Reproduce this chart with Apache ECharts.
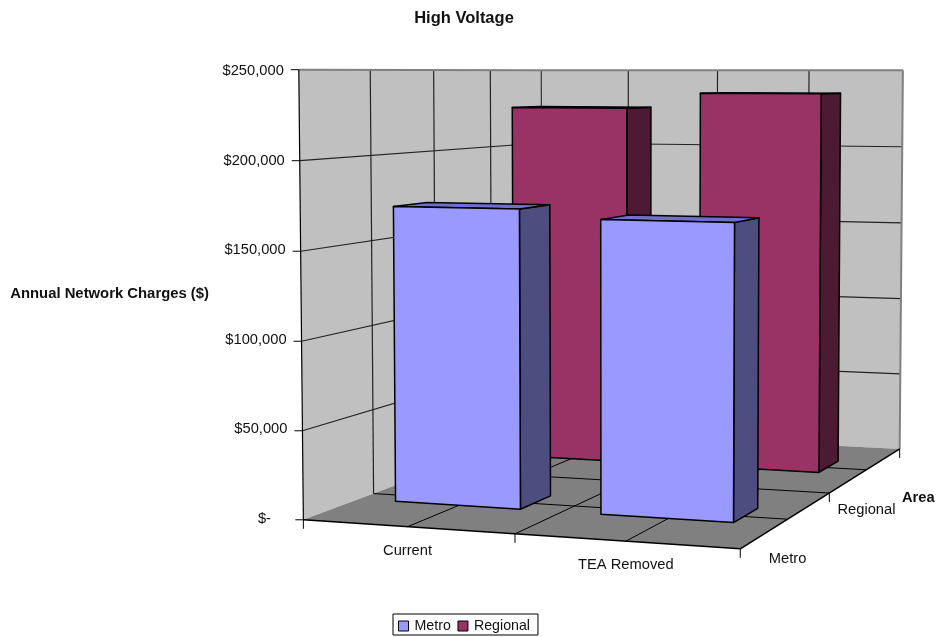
<!DOCTYPE html>
<html>
<head>
<meta charset="utf-8">
<style>html,body{margin:0;padding:0;background:#fff}#chart{width:936px;height:637px}</style>
<script src="https://cdn.jsdelivr.net/npm/echarts@6/dist/echarts.min.js"></script>
</head>
<body>
<div id="chart"></div>
<script>
// Annual network charges by scenario and area
const categories = ['Current', 'TEA Removed'];
const areas = ['Metro', 'Regional'];
const metroValues = [171500, 166500];
const regionalValues = [226000, 235500];
const valueTicks = [0, 50000, 100000, 150000, 200000, 250000];
const tickLabels = ['$-', '$50,000', '$100,000', '$150,000', '$200,000', '$250,000'];

const FONT = '"Liberation Sans", Arial, sans-serif';
const TEXT_SIZE = 14.7;
const VALUE_MAX = 250000;
const PLOT = { left: 303, top: 70, width: 437, height: 448 };
// Footprint of each bar inside its category/area cell
const BAR_ACROSS = [0.185, 0.8];
const BAR_DEPTH = [0.39, 0.65];

// Corners of the chart box on screen: [across, depth, height] -> [x, y]
const boxCorners = [
  [[0, 0, 0], [303.5, 518]], [[2, 0, 0], [740, 550]],
  [[2, 2, 0], [900, 448]], [[0, 2, 0], [542, 432]],
  [[0, 0, 1], [298, 70]], [[2, 0, 1], [743, 70]],
  [[2, 2, 1], [902, 70]], [[0, 2, 1], [542, 70]]
];

// Least-squares fit of the perspective camera through the box corners
function fitCamera(pairs) {
  const n = 11;
  const A = Array.from({ length: n }, () => new Array(n + 1).fill(0));
  const addRow = (row, rhs) => {
    for (let i = 0; i < n; i++) {
      for (let j = 0; j < n; j++) A[i][j] += row[i] * row[j];
      A[i][n] += row[i] * rhs;
    }
  };
  pairs.forEach(([[u, v, w], [x, y]]) => {
    addRow([u, v, w, 1, 0, 0, 0, 0, -x * u, -x * v, -x * w], x);
    addRow([0, 0, 0, 0, u, v, w, 1, -y * u, -y * v, -y * w], y);
  });
  for (let c = 0; c < n; c++) {
    let p = c;
    for (let r = c + 1; r < n; r++) if (Math.abs(A[r][c]) > Math.abs(A[p][c])) p = r;
    [A[c], A[p]] = [A[p], A[c]];
    for (let r = 0; r < n; r++) {
      if (r === c) continue;
      const f = A[r][c] / A[c][c];
      for (let k = c; k <= n; k++) A[r][k] -= f * A[c][k];
    }
  }
  return A.map((row, i) => row[n] / row[i]);
}
const cam = fitCamera(boxCorners);
function project(u, v, w) {
  const d = cam[8] * u + cam[9] * v + cam[10] * w + 1;
  return [
    (cam[0] * u + cam[1] * v + cam[2] * w + cam[3]) / d,
    (cam[4] * u + cam[5] * v + cam[6] * w + cam[7]) / d
  ];
}

function poly(points, fill, stroke, lineWidth) {
  return {
    type: 'polygon',
    shape: { points },
    style: { fill: fill || 'none', stroke: stroke || 'none', lineWidth: lineWidth || 0, lineJoin: 'round' }
  };
}
function seg(a, b, stroke, lineWidth) {
  return {
    type: 'line',
    shape: { x1: a[0], y1: a[1], x2: b[0], y2: b[1] },
    style: { stroke, lineWidth }
  };
}
function label(text, x, y) {
  return {
    type: 'text',
    style: { text, x, y, font: TEXT_SIZE + 'px ' + FONT, fill: '#111', align: 'center', verticalAlign: 'middle' }
  };
}

// Height fraction of a value, read back from the value axis
function heightOf(api, value) {
  const y = api.coord([0, value])[1];
  return (PLOT.top + PLOT.height - y) / PLOT.height;
}

// Walls, floor, gridlines, ticks and the two base axes' labels
function renderFrame(params, api) {
  const kids = [];
  const WALL = '#C0C0C0', FLOOR = '#808080', EDGE = '#808080';
  kids.push(poly([project(0, 0, 0), project(0, 2, 0), project(0, 2, 1), project(0, 0, 1)], WALL));
  kids.push(poly([project(0, 2, 0), project(2, 2, 0), project(2, 2, 1), project(0, 2, 1)], WALL));
  kids.push(poly([project(0, 0, 0), project(2, 0, 0), project(2, 2, 0), project(0, 2, 0)], FLOOR));
  const GRID = '#222';
  valueTicks.slice(1, -1).forEach((t) => {
    const w = heightOf(api, t);
    kids.push(seg(project(0, 0, w), project(0, 2, w), GRID, 1.2));
    kids.push(seg(project(0, 2, w), project(2, 2, w), GRID, 1.2));
  });
  [0.5, 1, 1.5].forEach((s) => {
    kids.push(seg(project(0, s, 0), project(0, s, 1), GRID, 1.2));
    kids.push(seg(project(s, 2, 0), project(s, 2, 1), GRID, 1.2));
    kids.push(seg(project(s, 0, 0), project(s, 2, 0), '#000', 1));
    kids.push(seg(project(0, s, 0), project(2, s, 0), '#000', 1));
  });
  kids.push(seg(project(0, 2, 0), project(0, 2, 1), '#333', 1.2));
  kids.push(seg(project(0, 2, 1), project(2, 2, 1), EDGE, 2));
  kids.push(seg(project(0, 0, 1), project(0, 2, 1), EDGE, 2));
  kids.push(seg(project(2, 2, 0), project(2, 2, 1), EDGE, 2));
  kids.push(seg(project(0, 0, 0), project(0, 0, 1), '#000', 1.2));
  kids.push(seg(project(0, 0, 0), project(2, 0, 0), '#000', 1.5));
  kids.push(seg(project(2, 0, 0), project(2, 2, 0), '#000', 1.5));
  // Value axis ticks
  valueTicks.forEach((t) => {
    const p = project(0, 0, heightOf(api, t));
    kids.push(seg([p[0] - 8, p[1]], p, '#000', 1));
  });
  // Base ticks
  [0, 1, 2].forEach((s) => {
    const a = project(s, 0, 0);
    kids.push(seg(a, [a[0], a[1] + 9], '#000', 1));
    if (s > 0) {
      const b = project(2, s, 0);
      kids.push(seg(b, [b[0], b[1] + 9], '#000', 1));
    }
  });
  categories.forEach((name, i) => {
    const p = project(i + 0.5, 0, 0);
    kids.push(label(name, p[0], p[1] + 24));
  });
  areas.forEach((name, i) => {
    const p = project(2, i + 0.5, 0);
    kids.push(label(name, p[0], p[1] + 40));
  });
  return { type: 'group', children: kids };
}

// One solid bar: right side, top and front faces
function renderBar(depthIndex, colors) {
  return function (params, api) {
    const cat = api.value(0);
    const w = heightOf(api, api.value(1));
    const u0 = cat + BAR_ACROSS[0], u1 = cat + BAR_ACROSS[1];
    const v0 = depthIndex + BAR_DEPTH[0], v1 = depthIndex + BAR_DEPTH[1];
    const line = '#000';
    return {
      type: 'group',
      children: [
        poly([project(u1, v0, 0), project(u1, v1, 0), project(u1, v1, w), project(u1, v0, w)], colors.side, line, 1.5),
        poly([project(u0, v0, w), project(u1, v0, w), project(u1, v1, w), project(u0, v1, w)], colors.top, line, 1.5),
        poly([project(u0, v0, 0), project(u1, v0, 0), project(u1, v0, w), project(u0, v0, w)], colors.front, line, 1.5)
      ]
    };
  };
}

const METRO = { front: '#9999FF', side: '#4D4D80', top: '#7070CC' };
const REGIONAL = { front: '#993366', side: '#4D1A33', top: '#7A2952' };

// Value labels follow the slight lean of the front wall edge
const labelRich = {};
valueTicks.forEach((t, i) => {
  const lean = PLOT.left - project(0, 0, t / VALUE_MAX)[0];
  labelRich['v' + i] = {
    fontFamily: FONT, fontSize: TEXT_SIZE, color: '#111',
    padding: [2, Math.max(0, lean) + (t === 0 ? 17 : 0), 0, 0]
  };
});

const chart = echarts.init(document.getElementById('chart'), null, { renderer: 'canvas' });
chart.setOption({
  animation: false,
  backgroundColor: '#fff',
  title: {
    text: 'High Voltage', left: 459, top: 5, textAlign: 'center',
    textStyle: { fontFamily: FONT, fontSize: 16.5, fontWeight: 'bold', color: '#111' }
  },
  legend: {
    data: areas,
    left: 393, top: 614,
    orient: 'horizontal',
    icon: 'rect',
    itemWidth: 10, itemHeight: 10, itemGap: 6.7,
    padding: [5, 8, 2, 5],
    borderColor: '#000', borderWidth: 1,
    selectedMode: false,
    textStyle: { fontFamily: FONT, fontSize: 14.2, color: '#111', padding: [0, 0, 0, 1] },
    itemStyle: { borderColor: '#000', borderWidth: 1 }
  },
  grid: Object.assign({ containLabel: false, outerBoundsMode: 'none' }, PLOT),
  xAxis: { type: 'category', data: categories, show: false },
  yAxis: {
    type: 'value', min: 0, max: VALUE_MAX, interval: 50000,
    axisLine: { show: false }, axisTick: { show: false }, splitLine: { show: false },
    axisLabel: {
      margin: 15, rich: labelRich,
      formatter: (v) => {
        const i = valueTicks.indexOf(v);
        return '{v' + i + '|' + tickLabels[i] + '}';
      }
    },
    name: 'Annual Network Charges ($)',
    nameLocation: 'middle', nameRotate: 0, nameGap: 94,
    nameTextStyle: { fontFamily: FONT, fontSize: 14.85, fontWeight: 'bold', color: '#111', padding: [6, 0, 0, 0] }
  },
  graphic: [{
    type: 'text', left: 902, top: 490,
    style: { text: 'Area', font: 'bold ' + TEXT_SIZE + 'px ' + FONT, fill: '#111' }
  }],
  series: [
    {
      name: 'frame', type: 'custom', z: 1, silent: true,
      renderItem: renderFrame, data: [[0, 0]], clip: false
    },
    {
      name: 'Regional', type: 'custom', z: 2, clip: false,
      itemStyle: { color: REGIONAL.front },
      renderItem: renderBar(1, REGIONAL),
      encode: { x: 0, y: 1 },
      data: regionalValues.map((v, i) => [i, v])
    },
    {
      name: 'Metro', type: 'custom', z: 3, clip: false,
      itemStyle: { color: METRO.front },
      renderItem: renderBar(0, METRO),
      encode: { x: 0, y: 1 },
      data: metroValues.map((v, i) => [i, v])
    }
  ]
});
</script>
</body>
</html>
